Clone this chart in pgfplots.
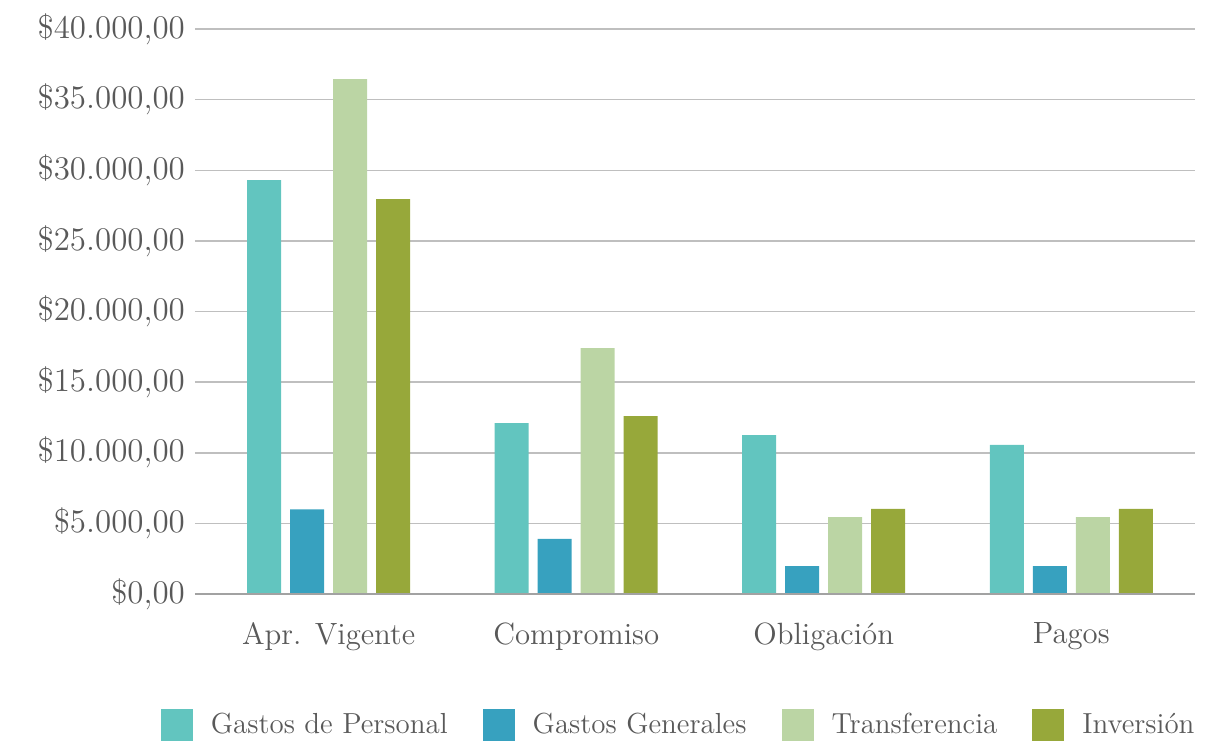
\documentclass[border=0pt]{standalone}
\usepackage{pgfplots}
\pgfplotsset{compat=1.18}
\definecolor{cGP}{HTML}{62C5BF}
\definecolor{cGG}{HTML}{37A1BF}
\definecolor{cTR}{HTML}{BBD5A4}
\definecolor{cIN}{HTML}{97A83A}
\definecolor{txt}{HTML}{595959}
\definecolor{grd}{HTML}{BFBFBF}
\pgfplotstableread{
x GP GG TR IN
0 29300 6000 36450 27950
1 12100 3900 17400 12600
2 11250 1980 5450 6020
3 10550 1980 5450 6020
}\datatable
\begin{document}
\begin{tikzpicture}
\begin{axis}[
  at={(0,0)}, anchor=south west,
  scale only axis, width=400pt, height=226pt,
  xmin=-0.54, xmax=3.5, ymin=0, ymax=40000,
  axis line style={draw=none},
  ybar, bar width=13.6pt,
  ytick={0,5000,...,40000},
  ymajorgrids, grid style={grd, line width=0.6pt},
  xtick={0,1,2,3},
  xticklabels={Apr. Vigente, Compromiso, Obligación, Pagos},
  major tick length=0pt, tick style={draw=none},
  yticklabel={\$\pgfmathprintnumber[fixed,fixed zerofill,precision=2,use comma,1000 sep={.}]{\tick}},
  scaled y ticks=false,
  yticklabel style={font=\fontsize{13.2}{15}\selectfont, text=txt, xshift=-0.5pt},
  xticklabel style={font=\fontsize{12.3}{14}\selectfont, text=txt, yshift=-8pt},
  /pgf/number format/assume math mode=true,
  legend columns=4,
  legend style={at={(1,0)}, anchor=east, yshift=-52.4pt, xshift=5pt, draw=none, fill=none,
    font=\fontsize{11.6}{14}\selectfont, text=txt,
    /tikz/every odd column/.append style={column sep=5.2pt},
    /tikz/every even column/.append style={column sep=12pt}},
  legend image code/.code={\fill[#1] (0pt,-6.4pt) rectangle (12.8pt,6.4pt);},
  clip=false,
]
\addplot[draw=none, fill=cGP, bar shift=-25.8pt] table[x=x,y=GP]{\datatable};
\addplot[draw=none, fill=cGG, bar shift=-8.6pt] table[x=x,y=GG]{\datatable};
\addplot[draw=none, fill=cTR, bar shift=8.6pt] table[x=x,y=TR]{\datatable};
\addplot[draw=none, fill=cIN, bar shift=25.8pt] table[x=x,y=IN]{\datatable};
\legend{Gastos de Personal, Gastos Generales, Transferencia, Inversión}
\draw[color=grd!85!black, line width=0.8pt] (rel axis cs:0,0) -- (rel axis cs:1,0);
\end{axis}
\pgfresetboundingbox
\path (-78pt,-60pt) rectangle (405.6pt,237.6pt);
\end{tikzpicture}
\end{document}
